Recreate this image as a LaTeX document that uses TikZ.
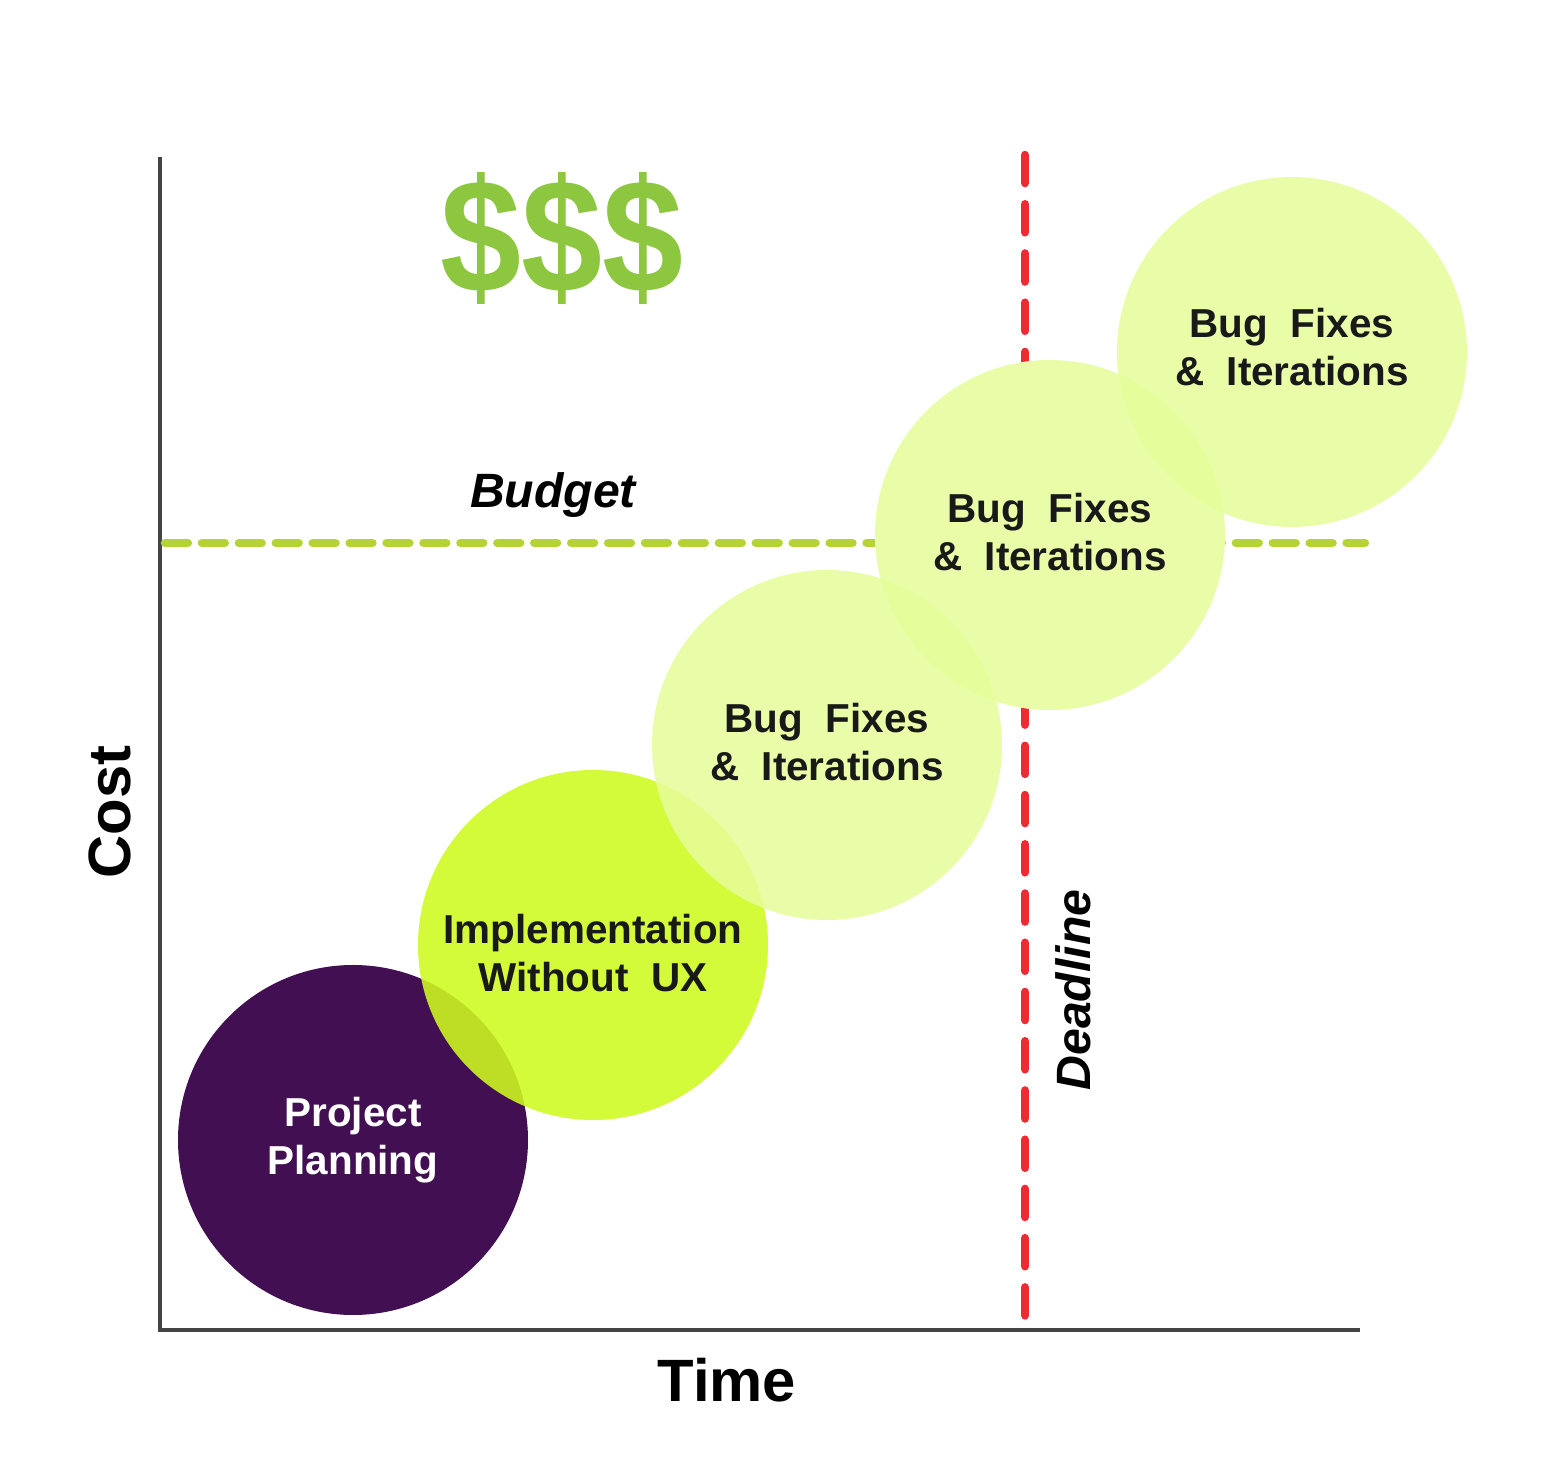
\documentclass[tikz,border=0pt]{standalone}
\usepackage{fontspec}
\setmainfont{Liberation Sans}
\definecolor{axisc}{HTML}{444444}
\definecolor{budc}{HTML}{B5D334}
\definecolor{redc}{HTML}{EE2A33}
\definecolor{purp}{HTML}{421052}
\definecolor{lime}{HTML}{CFFB1E}
\definecolor{pale}{HTML}{E6FD9A}
\definecolor{money}{HTML}{8DC63F}
\begin{document}
\begin{tikzpicture}[x=0.01cm,y=-0.01cm,
  bubble/.style={circle,minimum size=3.5cm,inner sep=0pt,align=center,font=\fontsize{11.5}{13.7}\selectfont\bfseries},
  axisline/.style={draw=axisc,line width=1.2pt},
  lbl/.style={font=\fontsize{17}{20}\selectfont\bfseries}]
\useasboundingbox (0,0) rectangle (1551,1474);
\coordinate (O) at (160,1330);
\coordinate (Ytop) at (160,157);
\coordinate (Xend) at (1360,1330);
\coordinate (B1) at (165,543); \coordinate (B2) at (1365,543);
\coordinate (D1) at (1025,155); \coordinate (D2) at (1025,1325);
\draw[axisline] (Ytop) -- (O) -- (Xend);
\draw[budc,line width=2.4pt,dash pattern=on 6.5pt off 4pt,line cap=round] (B1) -- (B2);
\draw[redc,line width=2.4pt,dash pattern=on 8pt off 6pt,line cap=round] (D1) -- (D2);
\foreach \p in {(353,1140),(593,945),(827,745),(1050,535),(1292,352)}
  \fill[white] \p circle (175);
\fill[purp] (353,1140) circle (175);
\fill[lime,opacity=0.88] (593,945) circle (175);
\fill[pale,opacity=0.85] (827,745) circle (175);
\fill[pale,opacity=0.85] (1050,535) circle (175);
\fill[pale,opacity=0.85] (1292,352) circle (175);
\node[bubble,text=white] (pp) at (353,1140) {Project\\Planning};
\node[bubble,text=black!90] (impl) at (593,953) {Implementation\\Without\ \ UX};
\node[bubble,text=black!90] (bf1) at (827,742) {Bug\ \ Fixes\\\&\ \ Iterations};
\node[bubble,text=black!90] (bf2) at (1050,532) {Bug\ \ Fixes\\\&\ \ Iterations};
\node[bubble,text=black!90] (bf3) at (1292,347) {Bug\ \ Fixes\\\&\ \ Iterations};
\node[lbl] (time) at (727,1380) {Time};
\node[lbl,rotate=90] (cost) at (110,812) {Cost};
\node[font=\fontsize{13.7}{16}\selectfont\bfseries\itshape] (bud) at (553,495) {Budget};
\node[font=\fontsize{13.7}{16}\selectfont\bfseries\itshape,rotate=90] (dl) at (1073,990) {Deadline};
\node[text=money,font=\fontsize{46}{50}\selectfont\bfseries,xscale=0.9] (money) at (562,238) {\$\$\$};
\end{tikzpicture}
\end{document}
